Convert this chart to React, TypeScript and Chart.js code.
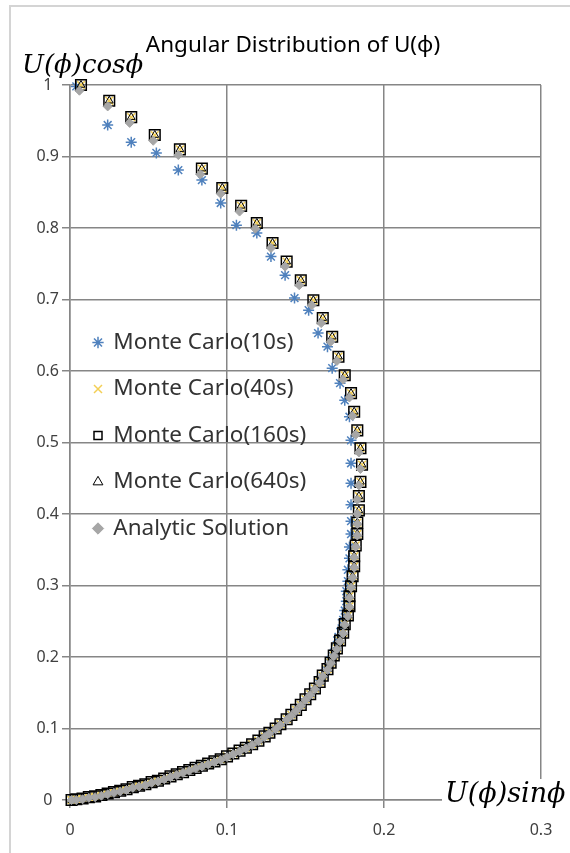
import React, { useEffect, useRef } from 'react';
import { Chart, registerables } from 'chart.js';

Chart.register(...registerables);

const TITLE = 'Angular Distribution of U(ϕ)';
const Y_TITLE = 'U(ϕ)cosϕ';
const X_TITLE = 'U(ϕ)sinϕ';
const seriesNames = ['Monte Carlo(10s)', 'Monte Carlo(40s)', 'Monte Carlo(160s)', 'Monte Carlo(640s)', 'Analytic Solution'];
const xTickValues = [0, 0.1, 0.2, 0.3];
const xTickLabels = ['0', '0.1', '0.2', '0.3'];
const yTickValues = [0, 0.1, 0.2, 0.3, 0.4, 0.5, 0.6, 0.7, 0.8, 0.9, 1];
const yTickLabels = ['0', '0.1', '0.2', '0.3', '0.4', '0.5', '0.6', '0.7', '0.8', '0.9', '1'];

const mc10X = [0.004,0.024,0.039,0.055,0.069,0.084,0.096,0.106,0.119,0.128,0.137,0.143,0.152,0.158,0.164,0.167,0.172,0.175,0.178,0.179,0.179,0.179,0.179,
  0.179,0.179,0.178,0.178,0.177,0.177,0.176,0.176,0.175,0.174,0.173,0.171,0.170,0.168,0.166,0.164,0.162,0.159,
  0.156,0.153,0.150,0.147,0.144,0.141,0.138,0.134,0.131,0.127,0.124,0.120,0.116,0.112,0.108,0.104,0.100,0.096,0.092,0.088,0.084,0.080,0.076,0.072,0.068,0.064,0.060,0.056,0.052,0.048,0.044,0.040,0.036,0.032,0.028,0.024,0.020,0.016,0.012,0.008,0.004,0.001];
const mc10Y = [0.998,0.944,0.920,0.905,0.881,0.867,0.835,0.804,0.793,0.760,0.734,0.702,0.685,0.653,0.634,0.604,0.583,0.559,0.536,0.503,0.471,0.443,0.413,
  0.390,0.372,0.354,0.338,0.322,0.306,0.292,0.278,0.265,0.252,0.240,0.228,0.217,0.206,0.196,0.186,0.177,0.168,
  0.156,0.148,0.141,0.133,0.126,0.119,0.113,0.106,0.100,0.094,0.089,0.083,0.078,0.073,0.069,0.065,0.061,0.057,0.054,0.051,0.048,0.045,0.042,0.039,0.036,0.033,0.030,0.027,0.025,0.022,0.020,0.018,0.015,0.013,0.011,0.009,0.007,0.005,0.004,0.002,0.001,0.000];

const mc40X = [0.007,0.025,0.039,0.054,0.070,0.084,0.097,0.109,0.119,0.129,0.138,0.147,0.155,0.161,0.167,0.171,0.175,0.179,0.181,0.183,0.185,0.186,0.185,0.184,0.184,
  0.183,0.183,0.182,0.181,0.181,0.180,0.179,0.178,0.178,0.177,0.175,0.174,0.172,0.170,0.168,0.166,0.164,0.161,0.159,0.156,0.153,0.150,0.147,0.144,0.141,0.138,0.134,0.131,0.127,0.124,0.120,0.116,0.112,0.108,0.104,0.100,0.096,0.092,0.088,0.084,0.080,0.076,0.072,0.068,0.064,0.060,0.056,0.052,0.048,0.044,0.040,0.036,0.032,0.028,0.024,0.020,0.016,0.012,0.008,0.004,0.001];
const mc40Y = [1.000,0.978,0.955,0.930,0.910,0.883,0.856,0.831,0.807,0.779,0.753,0.727,0.699,0.674,0.648,0.620,0.594,0.569,0.543,0.517,0.492,0.469,0.445,0.425,0.405,
  0.388,0.372,0.356,0.341,0.327,0.313,0.299,0.285,0.271,0.258,0.246,0.234,0.223,0.212,0.202,0.192,0.183,0.174,0.165,0.156,0.148,0.141,0.133,0.126,0.119,0.113,0.106,0.100,0.094,0.089,0.083,0.078,0.073,0.069,0.065,0.061,0.057,0.054,0.051,0.048,0.045,0.042,0.039,0.036,0.033,0.030,0.027,0.025,0.022,0.020,0.018,0.015,0.013,0.011,0.009,0.007,0.005,0.004,0.002,0.001,0.000];

const mc160X = [0.007,0.025,0.039,0.054,0.070,0.084,0.097,0.109,0.119,0.129,0.138,0.147,0.155,0.161,0.167,0.171,0.175,0.179,0.181,0.183,0.185,0.186,0.185,0.184,0.184,
  0.183,0.183,0.182,0.181,0.181,0.180,0.179,0.178,0.178,0.177,0.175,0.174,0.172,0.170,0.168,0.166,0.164,0.161,0.159,0.156,0.153,0.150,0.147,0.144,0.141,0.138,0.134,0.131,0.127,0.124,0.120,0.116,0.112,0.108,0.104,0.100,0.096,0.092,0.088,0.084,0.080,0.076,0.072,0.068,0.064,0.060,0.056,0.052,0.048,0.044,0.040,0.036,0.032,0.028,0.024,0.020,0.016,0.012,0.008,0.004,0.001];
const mc160Y = [1.000,0.978,0.955,0.930,0.910,0.883,0.856,0.831,0.807,0.779,0.753,0.727,0.699,0.674,0.648,0.620,0.594,0.569,0.543,0.517,0.492,0.469,0.445,0.425,0.405,
  0.388,0.372,0.356,0.341,0.327,0.313,0.299,0.285,0.271,0.258,0.246,0.234,0.223,0.212,0.202,0.192,0.183,0.174,0.165,0.156,0.148,0.141,0.133,0.126,0.119,0.113,0.106,0.100,0.094,0.089,0.083,0.078,0.073,0.069,0.065,0.061,0.057,0.054,0.051,0.048,0.045,0.042,0.039,0.036,0.033,0.030,0.027,0.025,0.022,0.020,0.018,0.015,0.013,0.011,0.009,0.007,0.005,0.004,0.002,0.001,0.000];

const mc640X = [0.007,0.025,0.039,0.054,0.070,0.084,0.097,0.109,0.119,0.129,0.138,0.147,0.155,0.161,0.167,0.171,0.175,0.179,0.181,0.183,0.185,0.186,0.185,0.184,0.184,
  0.183,0.183,0.182,0.181,0.181,0.180,0.179,0.178,0.178,0.177,0.175,0.174,0.172,0.170,0.168,0.166,0.164,0.161,0.159,0.156,0.153,0.150,0.147,0.144,0.141,0.138,0.134,0.131,0.127,0.124,0.120,0.116,0.112,0.108,0.104,0.100,0.096,0.092,0.088,0.084,0.080,0.076,0.072,0.068,0.064,0.060,0.056,0.052,0.048,0.044,0.040,0.036,0.032,0.028,0.024,0.020,0.016,0.012,0.008,0.004,0.001];
const mc640Y = [1.000,0.978,0.955,0.930,0.910,0.883,0.856,0.831,0.807,0.779,0.753,0.727,0.699,0.674,0.648,0.620,0.594,0.569,0.543,0.517,0.492,0.469,0.445,0.425,0.405,
  0.388,0.372,0.356,0.341,0.327,0.313,0.299,0.285,0.271,0.258,0.246,0.234,0.223,0.212,0.202,0.192,0.183,0.174,0.165,0.156,0.148,0.141,0.133,0.126,0.119,0.113,0.106,0.100,0.094,0.089,0.083,0.078,0.073,0.069,0.065,0.061,0.057,0.054,0.051,0.048,0.045,0.042,0.039,0.036,0.033,0.030,0.027,0.025,0.022,0.020,0.018,0.015,0.013,0.011,0.009,0.007,0.005,0.004,0.002,0.001,0.000];

const analyticX = [0.006,0.024,0.038,0.053,0.069,0.083,0.096,0.108,0.118,0.128,0.137,0.146,0.154,0.160,0.166,0.170,0.174,0.178,0.180,0.182,0.184,0.185,0.184,0.183,0.183,
  0.183,0.183,0.182,0.181,0.181,0.180,0.179,0.178,0.178,0.177,0.175,0.174,0.172,0.170,0.168,0.166,0.164,0.161,0.159,0.156,0.153,0.150,0.147,0.144,0.141,0.138,0.134,0.131,0.127,0.124,0.120,0.116,0.112,0.108,0.104,0.100,0.096,0.092,0.088,0.084,0.080,0.076,0.072,0.068,0.064,0.060,0.056,0.052,0.048,0.044,0.040,0.036,0.032,0.028,0.024,0.020,0.016,0.012,0.008,0.004,0.001];
const analyticY = [0.992,0.970,0.947,0.922,0.902,0.875,0.848,0.823,0.799,0.772,0.746,0.720,0.692,0.667,0.641,0.614,0.588,0.563,0.537,0.511,0.486,0.463,0.440,0.420,0.400,
  0.386,0.370,0.354,0.339,0.325,0.311,0.297,0.283,0.270,0.257,0.245,0.233,0.222,0.211,0.201,0.191,0.182,0.173,0.164,0.155,0.147,0.140,0.132,0.125,0.118,0.112,0.105,0.099,0.093,0.088,0.082,0.077,0.072,0.068,0.064,0.060,0.056,0.053,0.050,0.047,0.044,0.041,0.038,0.035,0.032,0.029,0.026,0.024,0.021,0.019,0.017,0.014,0.012,0.010,0.008,0.006,0.004,0.003,0.001,0.000,0.000];

const GRID = '#868686';
const FONT = '"Noto Sans", "Open Sans", sans-serif';

function pts(xs: number[], ys: number[]) {
  return xs.map((x, i) => ({ x, y: ys[i] }));
}

const textPlugin = {
  id: 'extraTexts',
  afterLayout(chart: any) {
    const lg = chart.legend;
    if (lg) {
      const h = lg.bottom - lg.top;
      lg.top = 78;
      lg.bottom = 78 + h;
    }
  },
  beforeDraw(chart: any) {
    const ctx = chart.ctx;
    ctx.save();
    ctx.fillStyle = '#ffffff';
    ctx.fillRect(0, 0, chart.width, chart.height);
    ctx.strokeStyle = '#D4D4D4';
    ctx.lineWidth = 2;
    ctx.strokeRect(10, 6, 700, 1000);
    ctx.restore();
  },
  afterDraw(chart: any) {
    const ctx = chart.ctx;
    ctx.save();
    ctx.fillStyle = '#000000';
    ctx.textBaseline = 'middle';
    ctx.textAlign = 'center';
    ctx.font = '22.5px ' + FONT;
    ctx.fillText(TITLE, 293, 46);
    ctx.textAlign = 'left';
    ctx.font = 'italic 26px "DejaVu Serif", serif';
    ctx.fillText(Y_TITLE, 22, 66);
    ctx.fillStyle = '#ffffff';
    ctx.fillRect(442, 779, 130, 32);
    ctx.fillStyle = '#000000';
    ctx.font = 'italic 27px "DejaVu Serif", serif';
    ctx.fillText(X_TITLE, 445, 795);
    ctx.restore();
  },
};

export default function App() {
  const ref = useRef<HTMLCanvasElement | null>(null);
  useEffect(() => {
    if (!ref.current) return;
    const common = { showLine: false, clip: false as any };
    const chart = new Chart(ref.current, {
      type: 'scatter',
      data: {
        datasets: [
          {
            ...common, label: seriesNames[0], data: pts(mc10X, mc10Y), order: 5,
            pointStyle: 'star', pointRadius: 5.5, pointBorderWidth: 1.5,
            borderColor: '#4F81BD', backgroundColor: '#4F81BD',
            pointBorderColor: '#4F81BD', pointBackgroundColor: '#4F81BD',
          },
          {
            ...common, label: seriesNames[1], data: pts(mc40X, mc40Y), order: 4,
            pointStyle: 'crossRot', pointRadius: 5.5, pointBorderWidth: 1.5,
            borderColor: '#F3CF55', backgroundColor: '#F3CF55',
            pointBorderColor: '#F3CF55', pointBackgroundColor: '#F3CF55',
          },
          {
            ...common, label: seriesNames[2], data: pts(mc160X, mc160Y), order: 3,
            pointStyle: 'rect', pointRadius: 7.5, pointBorderWidth: 1.5,
            borderColor: '#000000', backgroundColor: 'rgba(0,0,0,0)',
            pointBorderColor: '#000000', pointBackgroundColor: 'rgba(0,0,0,0)',
          },
          {
            ...common, label: seriesNames[3], data: pts(mc640X, mc640Y), order: 2,
            pointStyle: 'triangle', pointRadius: 4.5, pointBorderWidth: 1,
            borderColor: '#000000', backgroundColor: 'rgba(0,0,0,0)',
            pointBorderColor: '#000000', pointBackgroundColor: 'rgba(0,0,0,0)',
          },
          {
            ...common, label: seriesNames[4], data: pts(analyticX, analyticY), order: 1,
            pointStyle: 'rectRot', pointRadius: 4.5, pointBorderWidth: 1,
            borderColor: '#A6A6A6', backgroundColor: '#A6A6A6',
            pointBorderColor: '#A6A6A6', pointBackgroundColor: '#A6A6A6',
          },
        ],
      },
      options: {
        animation: false,
        responsive: false,
        devicePixelRatio: 1,
        layout: { padding: { left: 8, top: 85, right: 29, bottom: 8 } },
        scales: {
          x: {
            type: 'linear', min: 0, max: 0.3,
            afterBuildTicks: (s: any) => { s.ticks = xTickValues.map((v) => ({ value: v })); },
            afterFit: (s: any) => { s.height = 45; },
            grid: { color: GRID, lineWidth: 1.5, tickLength: 8, drawTicks: true },
            border: { color: GRID, width: 1.5 },
            ticks: {
              font: { family: FONT, size: 16 }, color: '#404040', padding: 13, maxRotation: 0,
              callback: (_v: any, i: number) => xTickLabels[i],
            },
          },
          y: {
            type: 'linear', min: 0, max: 1,
            afterBuildTicks: (s: any) => { s.ticks = yTickValues.map((v) => ({ value: v })); },
            afterFit: (s: any) => { s.width = 62; },
            grid: { color: GRID, lineWidth: 1.5, tickLength: 8, drawTicks: true },
            border: { color: GRID, width: 1.5 },
            ticks: {
              font: { family: FONT, size: 16 }, color: '#404040', padding: 3, crossAlign: 'center',
              callback: (_v: any, i: number) => yTickLabels[i],
            },
          },
        },
        plugins: {
          legend: {
            position: 'chartArea' as any,
            align: 'center',
            labels: {
              usePointStyle: true,
              boxWidth: 8,
              boxHeight: 8,
              padding: 24,
              color: '#333333',
              font: { family: FONT, size: 22.5 },
              sort: (a: any, b: any) => a.datasetIndex - b.datasetIndex,
            },
          },
          tooltip: { enabled: false },
          title: { display: false },
        },
      },
      plugins: [textPlugin],
    });
    return () => chart.destroy();
  }, []);
  return (
    <div style={{ position: 'absolute', left: 0, top: 0, width: 570, height: 853 }}>
      <canvas ref={ref} width={570} height={853} />
    </div>
  );
}
